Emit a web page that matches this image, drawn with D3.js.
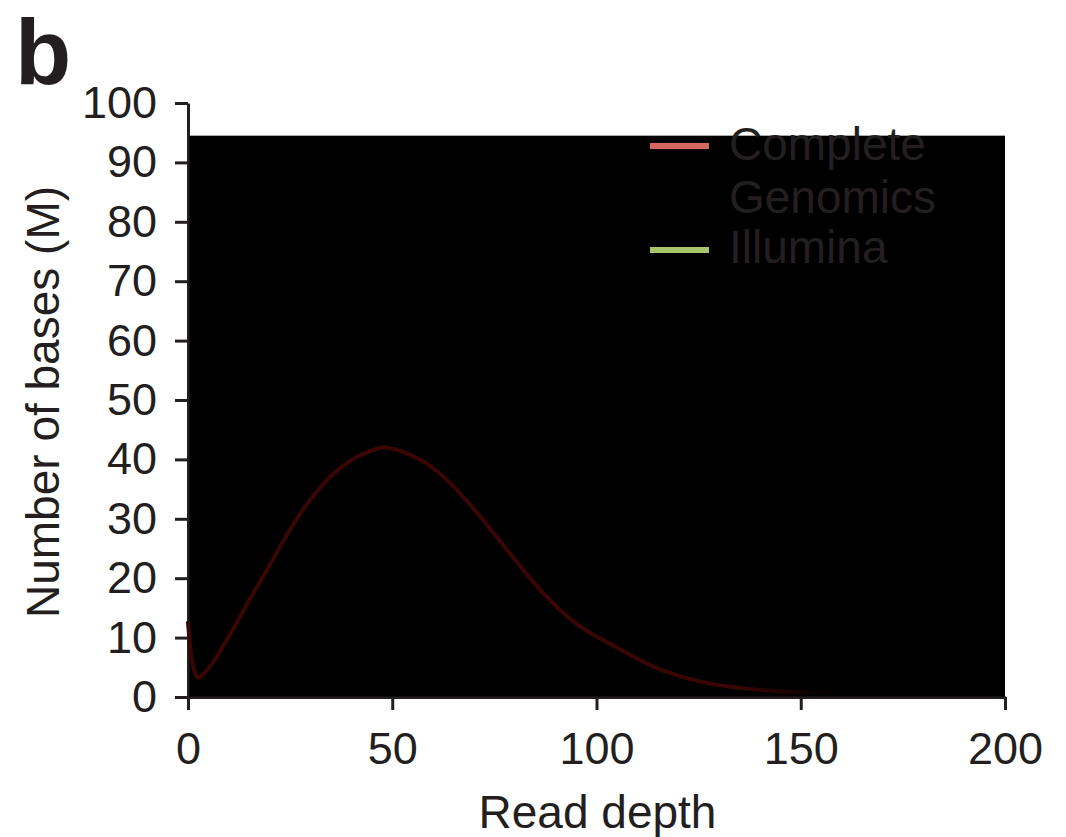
<!DOCTYPE html>
<html>
<head>
<meta charset="utf-8">
<script src="https://cdn.jsdelivr.net/npm/d3@7"></script>
<style>
  html, body { margin: 0; padding: 0; background: #ffffff; }
  svg { display: block; font-family: "Liberation Sans", Arial, Helvetica, sans-serif; }
</style>
</head>
<body>
<svg id="chart" width="1066" height="837"></svg>
<script>
// Read-depth distribution (millions of bases at each depth)
const depth = [0, 1, 2.5, 5, 9.5, 15, 20, 25, 30, 35, 40, 45, 48, 53, 58, 63, 67, 71, 75, 79, 83, 87, 91, 95, 99, 104, 108, 113, 120, 130, 140, 150, 158];
const completeGenomics = [12.5, 6, 3.3, 4.8, 9.6, 16.3, 22.2, 28.2, 33.3, 37.2, 39.9, 41.5, 42, 41.2, 39.5, 36.8, 34.0, 30.8, 27.4, 24.0, 20.6, 17.5, 14.7, 12.4, 10.6, 8.7, 7.2, 5.4, 3.6, 2.0, 1.2, 0.8, 0.7];

// Shaded panel extent behind the curves
const panelX = [0, 200];
const panelY = [0, 94.5];

const xTicks = [0, 50, 100, 150, 200];
const yTicks = [0, 10, 20, 30, 40, 50, 60, 70, 80, 90, 100];

const seriesNames = ["Complete Genomics", "Illumina"];
const seriesColors = ["#d4675e", "#a8c46a"];

const ink = "#231f20";
const svg = d3.select("#chart");

const x = d3.scaleLinear().domain([0, 200]).range([188, 1005]);
const y = d3.scaleLinear().domain([0, 100]).range([697, 103]);

// Axes
const yAxis = svg.append("g")
  .attr("transform", `translate(${x(0)},0)`)
  .call(d3.axisLeft(y).tickValues(yTicks).tickSize(13).tickPadding(18).tickSizeOuter(0));
const xAxis = svg.append("g")
  .attr("transform", `translate(0,${y(0)})`)
  .call(d3.axisBottom(x).tickValues(xTicks).tickSize(13).tickPadding(22).tickSizeOuter(0));

[xAxis, yAxis].forEach(g => {
  g.selectAll("path.domain").attr("stroke", ink).attr("stroke-width", 3);
  g.selectAll(".tick line").attr("stroke", ink).attr("stroke-width", 3);
  g.selectAll(".tick text")
    .attr("fill", ink)
    .style("font-size", "45px")
    .style("font-family", "'Liberation Sans', Arial, sans-serif");
});

// Black panel
svg.append("rect")
  .attr("x", x(panelX[0]) + 1.5)
  .attr("y", y(panelY[1]))
  .attr("width", x(panelX[1]) - x(panelX[0]) - 1.5)
  .attr("height", y(panelY[0]) - y(panelY[1]) - 0.5)
  .attr("fill", "#000000");

// Curve
const pts = depth.map((d, i) => [d, completeGenomics[i]]);
const line = d3.line()
  .x(d => x(d[0]))
  .y(d => y(d[1]))
  .curve(d3.curveMonotoneX);

const fade = svg.append("defs").append("linearGradient")
  .attr("id", "curveFade")
  .attr("gradientUnits", "userSpaceOnUse")
  .attr("x1", x(0)).attr("x2", x(158)).attr("y1", 0).attr("y2", 0);
fade.append("stop").attr("offset", "0.85").attr("stop-color", "#3a0604");
fade.append("stop").attr("offset", "1").attr("stop-color", "#000000");

svg.append("path")
  .datum(pts)
  .attr("d", line)
  .attr("fill", "none")
  .attr("stroke", "url(#curveFade)")
  .attr("stroke-width", 4)
  .attr("stroke-linecap", "round");

// Legend
const legendRows = [
  { lines: ["Complete", "Genomics"], color: seriesColors[0], sy: 146, ty: 160 },
  { lines: ["Illumina"], color: seriesColors[1], sy: 250, ty: 263 }
];
const legend = svg.append("g");
legendRows.forEach((r, i) => {
  legend.append("line")
    .attr("x1", 650).attr("x2", 709)
    .attr("y1", r.sy).attr("y2", r.sy)
    .attr("stroke", r.color).attr("stroke-width", 6);
  const t = legend.append("text")
    .attr("x", 729).attr("y", r.ty)
    .attr("fill", ink)
    .style("font-size", "46px");
  r.lines.forEach((s, j) => {
    t.append("tspan").attr("x", 729).attr("dy", j === 0 ? 0 : 53).text(s);
  });
});

// Axis titles
svg.append("text")
  .attr("x", (x(0) + x(200)) / 2 + 1)
  .attr("y", 828)
  .attr("text-anchor", "middle")
  .attr("fill", ink)
  .style("font-size", "46px")
  .text("Read depth");

svg.append("text")
  .attr("transform", `translate(59,402) rotate(-90)`)
  .attr("text-anchor", "middle")
  .attr("fill", ink)
  .style("font-size", "46px")
  .text("Number of bases (M)");

// Panel letter
svg.append("text")
  .attr("x", 15)
  .attr("y", 84)
  .attr("fill", ink)
  .style("font-size", "92px")
  .style("font-weight", "bold")
  .text("b");
</script>
</body>
</html>
